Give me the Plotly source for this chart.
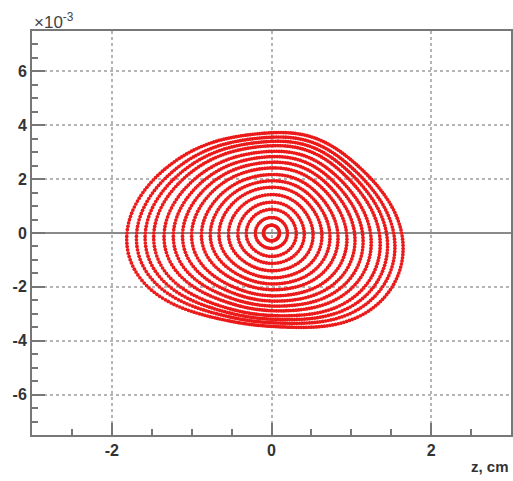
import numpy as np
import plotly.graph_objects as go

# Outer boundary of the phase-space region (z in cm, p in 1e-3)
outer_z = [1.64, 1.63, 1.51, 1.35, 1.14, 0.89, 0.56, 0.35, -0.03, -0.36, -0.56, -0.78,
           -0.99, -1.19, -1.40, -1.61, -1.775, -1.84, -1.74, -1.53, -1.19, -0.78, -0.36,
           0.14, 0.56, 0.98, 1.26, 1.48, 1.60, 1.64]
outer_p = [-0.10, 0.22, 0.96, 1.70, 2.33, 2.96, 3.52, 3.70, 3.70, 3.63, 3.52, 3.33,
           3.07, 2.70, 2.22, 1.52, 0.48, -0.63, -1.11, -2.00, -2.74, -3.11, -3.33,
           -3.52, -3.48, -3.22, -2.85, -2.22, -1.37, -0.63]
# Right-side crossing (z, cm) of each closed orbit on p = 0
ring_z_right = [0.10, 0.20, 0.31, 0.41, 0.52, 0.63, 0.73, 0.83, 0.94, 1.04,
                1.14, 1.24, 1.35, 1.44, 1.53, 1.63]

x_ticks = [-2, 0, 2]
x_tick_labels = ["-2", "0", "2"]
y_ticks = [-6, -4, -2, 0, 2, 4, 6]
y_tick_labels = ["-6", "-4", "-2", "0", "2", "4", "6"]

# ---- smooth outer boundary (low-order Fourier fit of radius vs angle) ----
P_SCALE = 2.96  # p units (1e-3) per cm for a round picture
oz = np.array(outer_z)
ow = np.array(outer_p) / P_SCALE
ang = np.arctan2(ow, oz)
rad = np.hypot(oz, ow)
NH = 6


def basis(t):
    cols = [np.ones_like(t)]
    for k in range(1, NH + 1):
        cols += [np.cos(k * t), np.sin(k * t)]
    return np.stack(cols, axis=1)


coef, *_ = np.linalg.lstsq(basis(ang), rad, rcond=None)


def r_outer(t):
    return basis(np.atleast_1d(t)) @ coef


r_right = float(r_outer(0.0)[0])

xs, ys = [], []
for zr in ring_z_right:
    s = zr / r_right
    n = int(max(40, 2 * np.pi * 1.5 * s * 80 / 2.8))
    th = np.linspace(-np.pi, np.pi, n, endpoint=False)
    r = s * ((1 - s) * r_right + s * r_outer(th))
    xs.extend(r * np.cos(th))
    ys.extend(r * np.sin(th) * P_SCALE)

fig = go.Figure()
fig.add_trace(go.Scatter(
    x=xs, y=ys, mode="markers",
    marker=dict(color="rgb(235,25,25)", size=3.7, line=dict(width=0)),
    hoverinfo="skip", showlegend=False))

FONT = "Liberation Sans, Arial, sans-serif"
axis_common = dict(
    showline=True, mirror=True, linecolor="#777777", linewidth=2,
    ticks="inside", tickcolor="#777777", tickwidth=2, automargin=False,
    showgrid=True, gridcolor="#b5b5b5", griddash="dot", gridwidth=1.5,
    tickfont=dict(family=FONT, size=16, color="#333333", weight="bold"),
)

fig.update_layout(
    width=513, height=481,
    margin=dict(l=32, r=2, t=31, b=46),
    paper_bgcolor="white", plot_bgcolor="white",
    xaxis=dict(range=[-3, 3], tickvals=x_ticks, ticktext=x_tick_labels,
               ticklen=12, zeroline=False,
               minor=dict(ticks="inside", ticklen=6, dtick=0.5, tickcolor="#777777",
                          tickwidth=1.5, showgrid=False),
               **axis_common),
    yaxis=dict(range=[-7.5, 7.5], tickvals=y_ticks, ticktext=y_tick_labels,
               ticklen=13, zeroline=True, zerolinecolor="#8a8a8a", zerolinewidth=2,
               minor=dict(ticks="inside", ticklen=6, dtick=0.5, tickcolor="#777777",
                          tickwidth=1.5, showgrid=False),
               **axis_common),
    annotations=[
        dict(text="z, cm", xref="paper", yref="paper", x=1.0, y=-0.077,
             xanchor="right", yanchor="middle", showarrow=False,
             font=dict(family=FONT, size=15, color="#333333", weight="bold")),
        dict(text="×10<sup>-3</sup>", xref="paper", yref="paper", x=0.0, y=1.0,
             xanchor="left", yanchor="bottom", showarrow=False, yshift=-3,
             font=dict(family=FONT, size=17, color="#444444")),
    ],
)

# remove the default 8px page margin so the figure fills the window exactly
fig.write_html("out.html",
               config={"displayModeBar": False},
               post_script="document.body.style.margin='0';"
                           "document.body.style.overflow='hidden';")
